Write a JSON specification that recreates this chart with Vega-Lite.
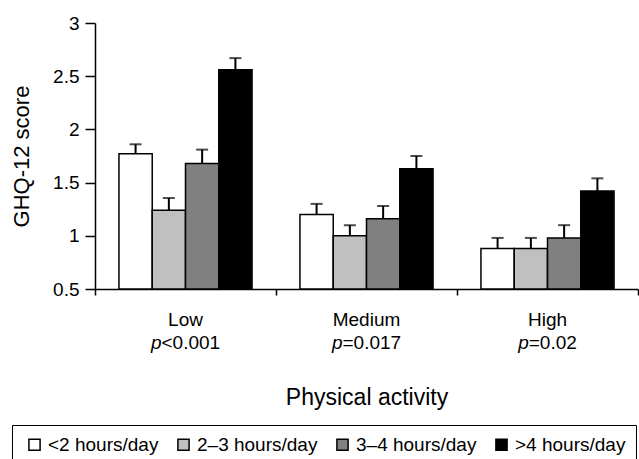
{
  "$schema": "https://vega.github.io/schema/vega-lite/v6.json",
  "width": 543,
  "height": 266,
  "autosize": {"type": "none"},
  "padding": {"left": 95, "top": 23, "right": 1, "bottom": 170},
  "background": "white",
  "config": {
    "view": {"stroke": null},
    "font": "Liberation Sans",
    "axis": {
      "domainColor": "black",
      "tickColor": "black",
      "labelColor": "black",
      "titleColor": "black",
      "grid": false,
      "domainWidth": 1.5,
      "tickWidth": 1.5,
      "labelFont": "Liberation Sans",
      "titleFont": "Liberation Sans",
      "titleFontWeight": "normal"
    }
  },
  "data": {
    "values": [
      {"activity": "Low", "hours": "<2 hours/day", "mean": 1.77, "upper": 1.86},
      {"activity": "Low", "hours": "2–3 hours/day", "mean": 1.24, "upper": 1.355},
      {"activity": "Low", "hours": "3–4 hours/day", "mean": 1.68, "upper": 1.81},
      {"activity": "Low", "hours": ">4 hours/day", "mean": 2.56, "upper": 2.67},
      {"activity": "Medium", "hours": "<2 hours/day", "mean": 1.2, "upper": 1.3},
      {"activity": "Medium", "hours": "2–3 hours/day", "mean": 1.0, "upper": 1.1},
      {"activity": "Medium", "hours": "3–4 hours/day", "mean": 1.16, "upper": 1.28},
      {"activity": "Medium", "hours": ">4 hours/day", "mean": 1.63, "upper": 1.75},
      {"activity": "High", "hours": "<2 hours/day", "mean": 0.88, "upper": 0.98},
      {"activity": "High", "hours": "2–3 hours/day", "mean": 0.88, "upper": 0.98},
      {"activity": "High", "hours": "3–4 hours/day", "mean": 0.98, "upper": 1.1},
      {"activity": "High", "hours": ">4 hours/day", "mean": 1.42, "upper": 1.54}
    ]
  },
  "layer": [
    {
      "mark": {"type": "bar", "stroke": "black", "strokeWidth": 1.5},
      "encoding": {
        "x": {
          "field": "activity", "type": "nominal", "sort": ["Low", "Medium", "High"],
          "scale": {"paddingInner": 0, "paddingOuter": 0},
          "axis": {"orient": "bottom", "bandPosition": 0, "labels": false, "ticks": true, "tickSize": 6, "domain": true, "title": "Physical activity", "titleFontSize": 23, "titlePadding": 91}
        },
        "xOffset": {
          "field": "hours", "type": "nominal",
          "sort": ["<2 hours/day", "2–3 hours/day", "3–4 hours/day", ">4 hours/day"],
          "scale": {"paddingInner": 0, "paddingOuter": 0.72}
        },
        "y": {
          "field": "mean", "type": "quantitative",
          "scale": {"domain": [0.5, 3], "nice": false, "zero": false},
          "axis": {"values": [0.5, 1, 1.5, 2, 2.5, 3], "format": "~g", "labelFontSize": 19, "tickSize": 10, "labelPadding": 6, "title": "GHQ-12 score", "titleFontSize": 22, "titlePadding": 19}
        },
        "y2": {"datum": 0.5},
        "fill": {
          "field": "hours", "type": "nominal",
          "sort": ["<2 hours/day", "2–3 hours/day", "3–4 hours/day", ">4 hours/day"],
          "scale": {"domain": ["<2 hours/day", "2–3 hours/day", "3–4 hours/day", ">4 hours/day"], "range": ["#ffffff", "#c0c0c0", "#808080", "#000000"]},
          "legend": {
            "orient": "none", "legendX": -83, "legendY": 402, "direction": "horizontal",
            "title": null, "symbolType": "square", "symbolSize": 125,
            "symbolStrokeColor": "black", "symbolStrokeWidth": 1.5, "symbolOffset": 3,
            "labelFontSize": 19, "labelFont": "Liberation Sans", "labelColor": "black",
            "strokeColor": "black", "padding": 10,
            "columnPadding": 12, "labelOffset": 4, "fillColor": "white"
          }
        }
      }
    },
    {
      "mark": {"type": "rule", "color": "black", "strokeWidth": 2},
      "encoding": {
        "x": {
          "field": "activity", "type": "nominal", "sort": ["Low", "Medium", "High"],
          "axis": {"orient": "bottom", "ticks": false, "tickSize": 0, "domain": false, "title": null, "labelFontSize": 19, "labelPadding": 21, "labelAngle": 0}
        },
        "xOffset": {"field": "hours", "type": "nominal", "sort": ["<2 hours/day", "2–3 hours/day", "3–4 hours/day", ">4 hours/day"]},
        "y": {"field": "mean", "type": "quantitative"},
        "y2": {"field": "upper"}
      }
    },
    {
      "mark": {"type": "tick", "orient": "horizontal", "color": "black", "size": 12, "thickness": 2},
      "encoding": {
        "x": {
          "field": "activity", "type": "nominal", "sort": ["Low", "Medium", "High"],
          "axis": {
            "orient": "bottom", "ticks": false, "tickSize": 0, "domain": false, "title": null,
            "labelFontSize": 19, "labelPadding": 44, "labelAngle": 0, "labelAlign": "left",
            "labelExpr": "datum.value == 'Low' ? '<0.001' : datum.value == 'Medium' ? '=0.017' : '=0.02'",
            "labelOffset": {"condition": {"test": "datum.value == 'High'", "value": -18.75}, "value": -24}
          }
        },
        "xOffset": {"field": "hours", "type": "nominal", "sort": ["<2 hours/day", "2–3 hours/day", "3–4 hours/day", ">4 hours/day"]},
        "y": {"field": "upper", "type": "quantitative"}
      }
    },
    {
      "mark": {"type": "point", "opacity": 0},
      "encoding": {
        "x": {
          "field": "activity", "type": "nominal", "sort": ["Low", "Medium", "High"],
          "axis": {
            "orient": "bottom", "bandPosition": 1, "ticks": true, "tickSize": 6,
            "tickOpacity": {"condition": {"test": "datum.value == 'High'", "value": 1}, "value": 0},
            "domain": false, "title": null,
            "labelFontSize": 19, "labelPadding": 38, "labelAngle": 0, "labelAlign": "right",
            "labelFontStyle": "italic",
            "labelExpr": "'p'",
            "labelOffset": {"condition": {"test": "datum.value == 'High'", "value": -18.75}, "value": -24}
          }
        },
        "y": {"field": "upper", "type": "quantitative"}
      }
    }
  ],
  "resolve": {"axis": {"x": "independent"}}
}
